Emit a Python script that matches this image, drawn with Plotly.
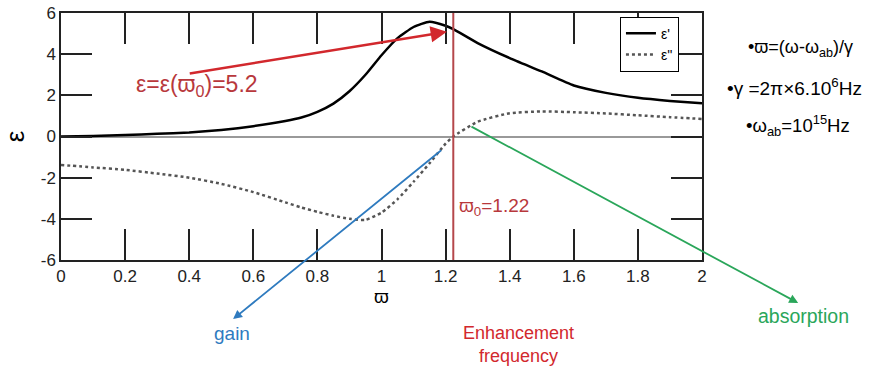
import plotly.graph_objects as go

# ---- data ----
w = [0, 0.1, 0.2, 0.3, 0.4, 0.5, 0.6, 0.7, 0.75, 0.8, 0.85, 0.9, 0.95, 1.0, 1.05, 1.1,
     1.15, 1.2, 1.224, 1.3, 1.4, 1.5, 1.6, 1.7, 1.8, 1.9, 2.0]
eps_real = [0, 0.03, 0.07, 0.13, 0.2, 0.32, 0.5, 0.75, 0.92, 1.2, 1.6, 2.2, 3.0, 3.95,
            4.78, 5.32, 5.58, 5.38, 5.22, 4.54, 3.81, 3.16, 2.48, 2.12, 1.88, 1.73, 1.62]
eps_imag = [-1.38, -1.5, -1.62, -1.8, -2.0, -2.3, -2.7, -3.2, -3.45, -3.66, -3.85, -4.0, -4.05,
            -3.7, -3.05, -2.2, -1.3, -0.35, 0.0, 0.72, 1.13, 1.22, 1.18, 1.12,
            1.03, 0.94, 0.85]
w0 = 1.224
x_ticks = [0, 0.2, 0.4, 0.6, 0.8, 1, 1.2, 1.4, 1.6, 1.8, 2]
x_ticktext = ["0", "0.2", "0.4", "0.6", "0.8", "1", "1.2", "1.4", "1.6", "1.8", "2"]
y_ticks = [-6, -4, -2, 0, 2, 4, 6]
y_ticktext = ["-6", "-4", "-2", "0", "2", "4", "6"]

FONT = "Liberation Sans, Arial, sans-serif"
RED = "#d2282d"
DARKRED = "#b8383c"
BLUE = "#2f7bbf"
GREEN = "#2aa65a"

fig = go.Figure()
fig.add_trace(go.Scatter(x=w, y=eps_real, mode="lines", name="ε'",
                         line=dict(color="black", width=2.5, shape="spline", smoothing=0.5)))
fig.add_trace(go.Scatter(x=w, y=eps_imag, mode="lines", name="ε''",
                         line=dict(color="#555555", width=2.5, dash="dot", shape="spline", smoothing=0.5)))

# vertical enhancement-frequency line
fig.add_shape(type="line", x0=w0, x1=w0, y0=-6, y1=6, xref="x", yref="y",
              line=dict(color="#b5474b", width=2))

ann = []
# red arrow to peak value
ann.append(dict(x=1.204, y=5.09, ax=0.397, ay=3.05, xref="x", yref="y", axref="x", ayref="y",
                showarrow=True, arrowhead=2, arrowsize=1.3, arrowwidth=2.5, arrowcolor=RED, text=""))
ann.append(dict(x=0.424, y=2.5, xref="x", yref="y", showarrow=False, xanchor="center", yanchor="middle",
                text="ε=ε(ϖ<sub>0</sub>)=5.2", font=dict(family=FONT, size=23, color=DARKRED)))
ann.append(dict(x=1.236, y=-3.43, xref="x", yref="y", showarrow=False, xanchor="left", yanchor="middle",
                text="ϖ<sub>0</sub>=1.22", font=dict(family=FONT, size=19, color=DARKRED)))
# gain arrow
ann.append(dict(x=0.537, y=-8.87, ax=1.191, ay=-0.61, xref="x", yref="y", axref="x", ayref="y",
                showarrow=True, arrowhead=2, arrowsize=1, arrowwidth=1.8, arrowcolor=BLUE, text=""))
ann.append(dict(x=0.266, y=-0.296, xref="paper", yref="paper", showarrow=False,
                xanchor="center", yanchor="middle",
                text="gain", font=dict(family=FONT, size=19, color=BLUE)))
# enhancement arrow
ann.append(dict(x=1.41, y=-9.16, ax=1.257, ay=-6.97, xref="x", yref="y", axref="x", ayref="y",
                showarrow=True, arrowhead=2, arrowsize=1, arrowwidth=1.8, arrowcolor=RED, text=""))
ann.append(dict(x=0.7145, y=-0.344, xref="paper", yref="paper", showarrow=False,
                xanchor="center", yanchor="middle",
                text="Enhancement<br>frequency", font=dict(family=FONT, size=18, color=RED)))
# absorption arrow
ann.append(dict(x=2.3, y=-8.09, ax=1.276, ay=0.52, xref="x", yref="y", axref="x", ayref="y",
                showarrow=True, arrowhead=2, arrowsize=1, arrowwidth=1.8, arrowcolor=GREEN, text=""))
ann.append(dict(x=1.158, y=-0.227, xref="paper", yref="paper", showarrow=False,
                xanchor="center", yanchor="middle",
                text="absorption", font=dict(family=FONT, size=19.5, color=GREEN)))
# right-side notes
ann.append(dict(x=1.153, y=0.858, xref="paper", yref="paper", showarrow=False,
                xanchor="center", yanchor="middle",
                text="•ϖ=(ω-ω<sub>ab</sub>)/γ", font=dict(family=FONT, size=18, color="black")))
ann.append(dict(x=1.145, y=0.70, xref="paper", yref="paper", showarrow=False,
                xanchor="center", yanchor="middle",
                text="•γ =2π×6.10<sup>6</sup>Hz", font=dict(family=FONT, size=19, color="black")))
ann.append(dict(x=1.150, y=0.545, xref="paper", yref="paper", showarrow=False,
                xanchor="center", yanchor="middle",
                text="•ω<sub>ab</sub>=10<sup>15</sup>Hz", font=dict(family=FONT, size=18.5, color="black")))

fig.update_layout(
    width=871, height=368,
    margin=dict(l=61, r=169, t=13, b=108, autoexpand=False),
    paper_bgcolor="white", plot_bgcolor="white",
    font=dict(family=FONT, size=17, color="#222222"),
    showlegend=True,
    legend=dict(x=0.872, y=0.985, xanchor="left", yanchor="top",
                bordercolor="black", borderwidth=1, bgcolor="white",
                font=dict(family=FONT, size=14, color="black"),
                itemwidth=30, tracegroupgap=2),
    annotations=ann,
)
fig.update_xaxes(range=[0, 2], tickvals=x_ticks, ticktext=x_ticktext,
                 showline=True, linecolor="#222222", linewidth=1.5, mirror="ticks",
                 ticks="inside", ticklen=31, tickwidth=1.5, tickcolor="#222222",
                 showgrid=False, zeroline=False,
                 title=dict(text="ϖ", standoff=2, font=dict(family=FONT, size=19, color="black")),
                 tickfont=dict(family=FONT, size=17, color="#222222"))
fig.update_yaxes(range=[-6, 6], tickvals=y_ticks, ticktext=y_ticktext,
                 showline=True, linecolor="#222222", linewidth=1.5, mirror="ticks",
                 ticks="inside", ticklen=31, tickwidth=1.5, tickcolor="#222222",
                 showgrid=False, zeroline=True, zerolinecolor="#999999", zerolinewidth=1.5,
                 title=dict(text="ε", standoff=15, font=dict(family=FONT, size=26, color="black")),
                 tickfont=dict(family=FONT, size=17, color="#222222"))

fig.write_html("out.html", config={"displayModeBar": False},
               post_script="document.body.style.margin='0';document.body.style.overflow='hidden';")
